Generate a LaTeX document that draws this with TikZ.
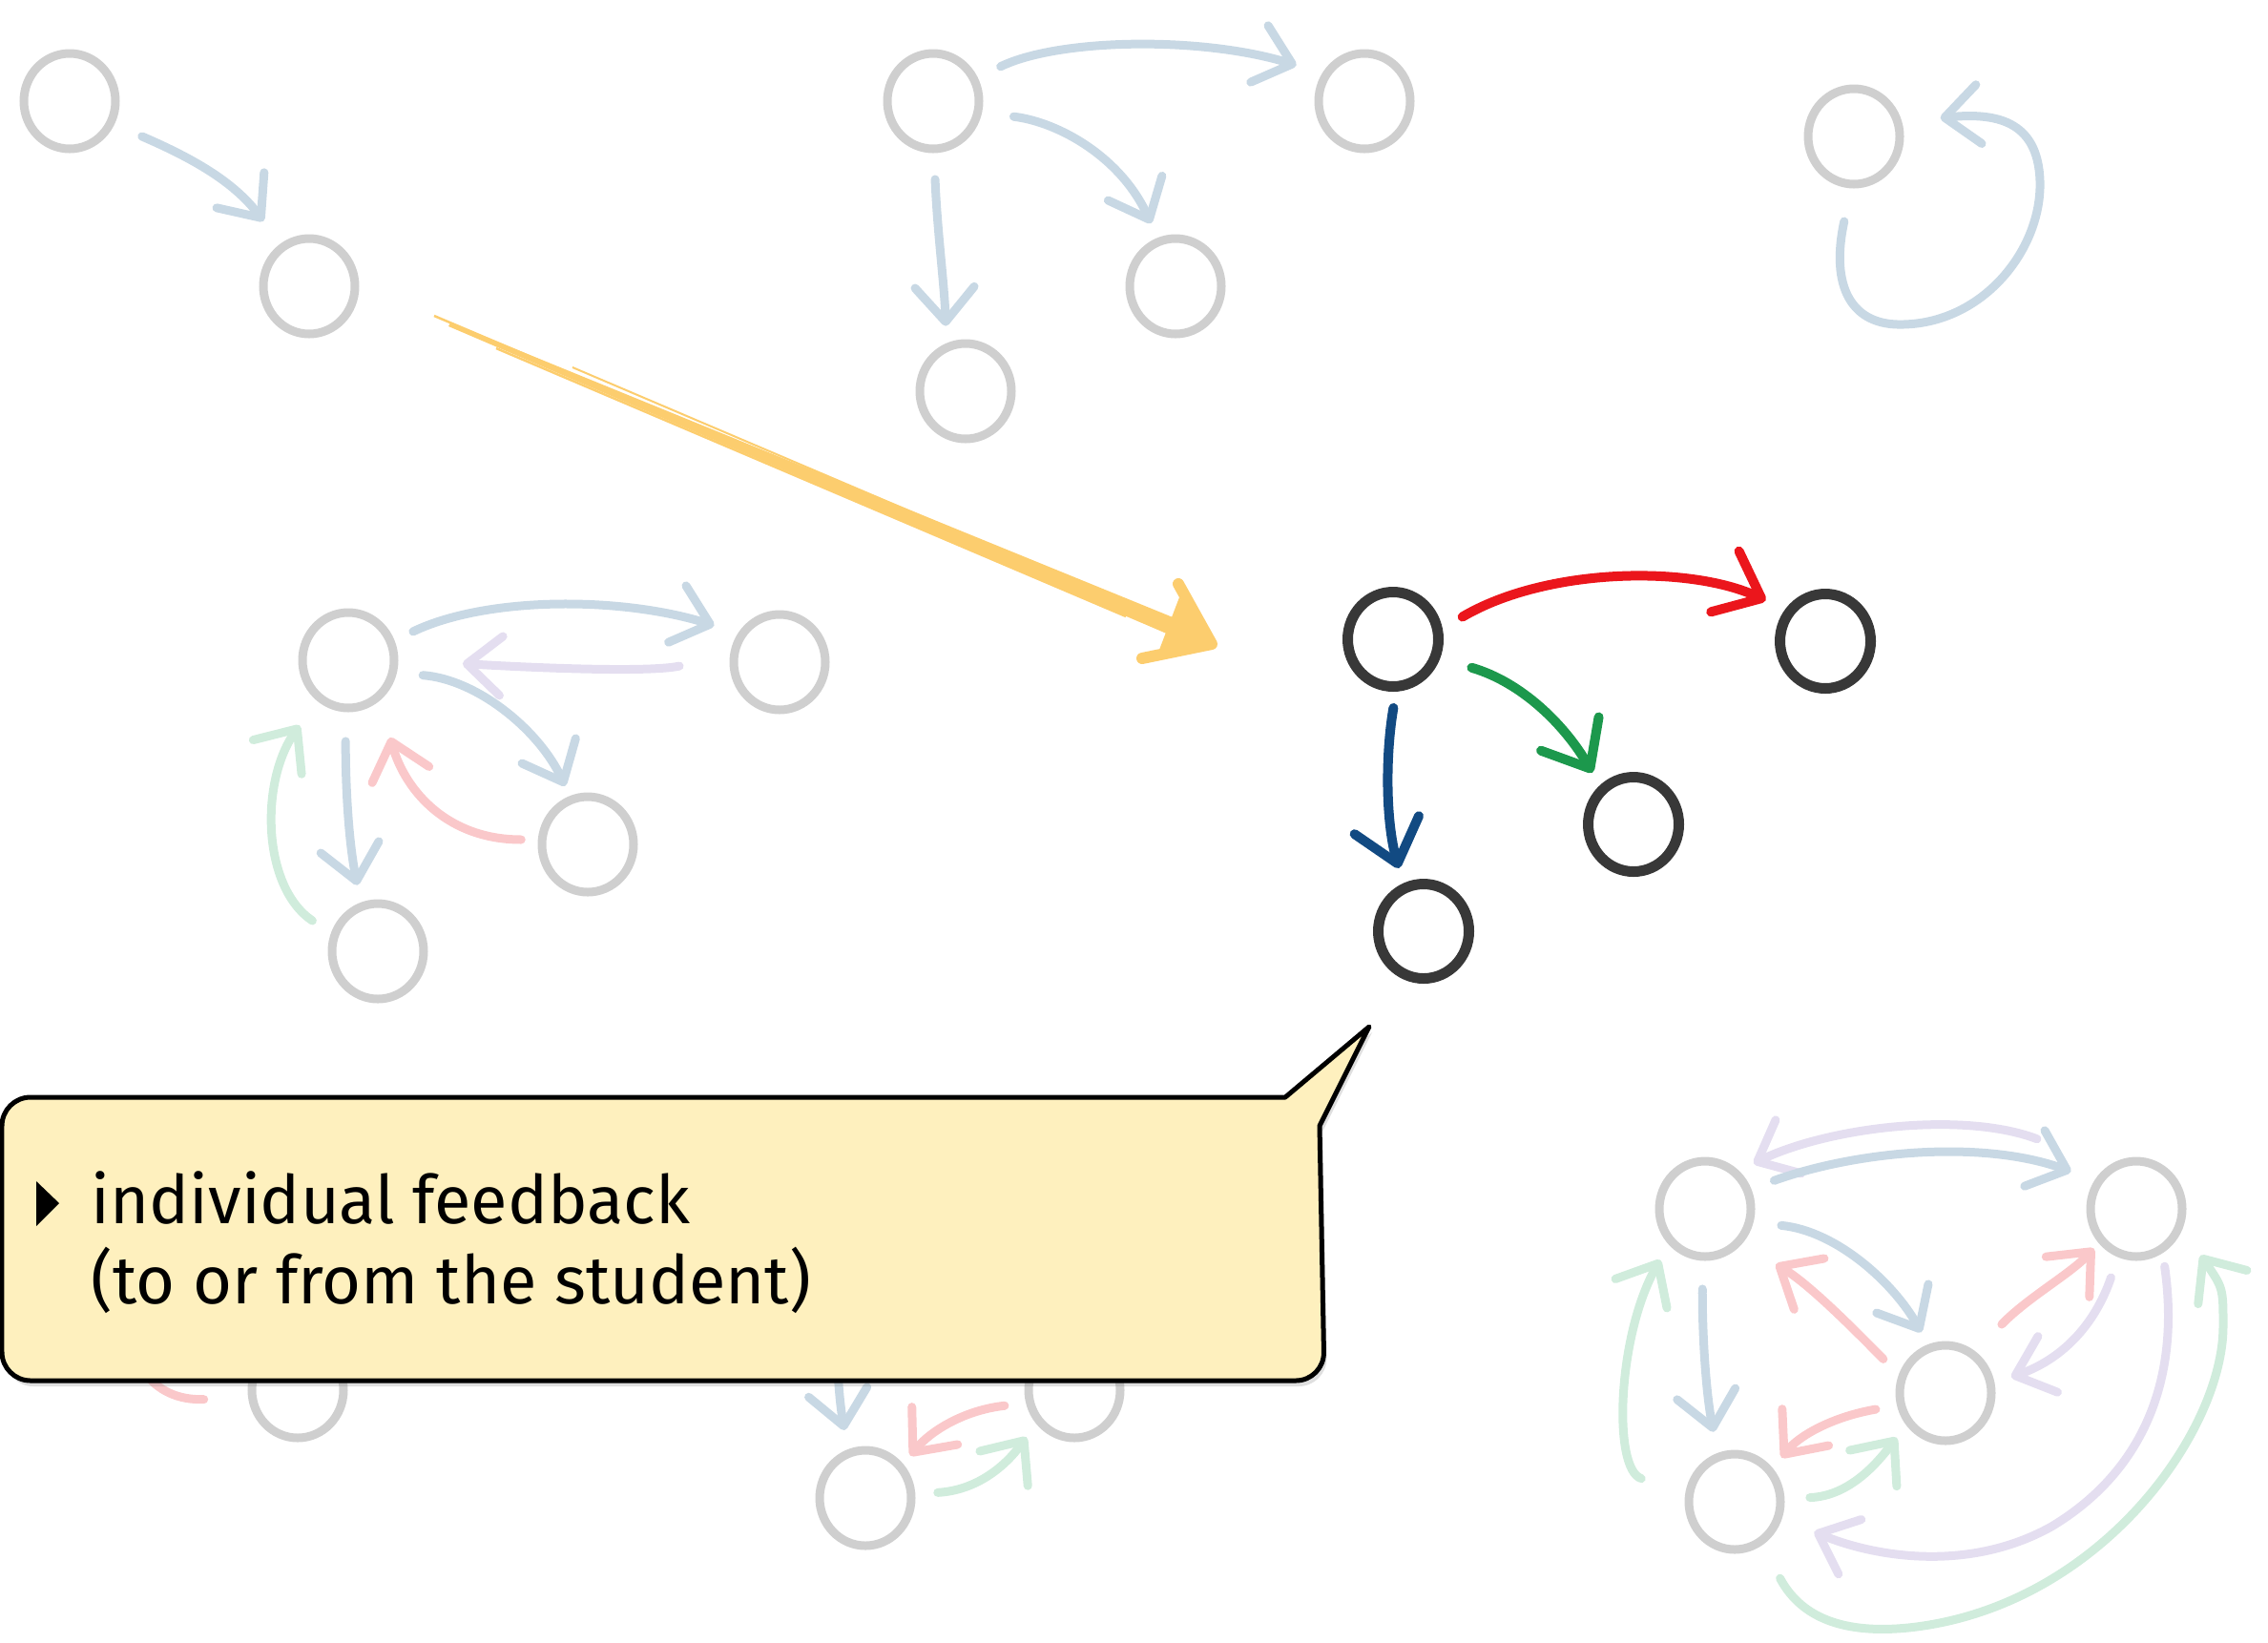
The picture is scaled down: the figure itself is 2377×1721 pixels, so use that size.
\documentclass[tikz,border=0pt]{standalone}
\usepackage{fontspec}
\setmainfont{Fira Sans}
\usetikzlibrary{arrows.meta,shapes.geometric,shadows}

\definecolor{inkred}{RGB}{235,22,28}
\definecolor{inkgreen}{RGB}{28,152,76}
\definecolor{inkblue}{RGB}{18,74,130}
\definecolor{paleblue}{RGB}{200,216,228}
\definecolor{palered}{RGB}{250,200,202}
\definecolor{palegreen}{RGB}{208,236,220}
\definecolor{palelilac}{RGB}{228,222,240}
\definecolor{marker}{RGB}{252,205,110}
\definecolor{notefill}{RGB}{254,240,190}

\tikzset{
  blob/.style={ellipse,draw=black!78,line width=1.1mm,minimum width=9.5mm,
    minimum height=9.9mm,inner sep=0pt,outer sep=0pt},
  ghost/.style={blob,draw=black!19,line width=.9mm,minimum width=9.6mm,minimum height=10mm},
  gaps/.style 2 args={shorten <=#1,shorten >=#2},
  link/.style={line width=1mm,line cap=round,
    -{Straight Barb[length=4.2mm,width=7mm,round]}},
  faint/.style={link,line width=.9mm,
    -{Straight Barb[length=3.6mm,width=6.2mm,round]}},
  note/.style={draw=black,line width=.5mm,fill=notefill,line join=round,
    drop shadow={shadow xshift=.3mm,shadow yshift=-.6mm,opacity=.25}},
  notetext/.style={anchor=base west,inner sep=0pt,font=\fontsize{20}{24}\selectfont}
}

\begin{document}
\begin{tikzpicture}[x=0.1mm,y=-0.1mm]
  \useasboundingbox (0,0) rectangle (2377,1721);

  \foreach \n/\x/\y in {n1/73/106,n2/324/300,a/978/106,b/1430/106,c/1232/300,
      d/1012/410,e/1943/143,p/365/692,q/817/694,r/616/885,s/396/997,
      u/1787/1267,v/2239/1267,w/2039/1460,x/1818/1574,
      g/312/1457,h/1126/1457,k/907/1570}
    \node[ghost] (\n) at (\x,\y) {};

  \draw[faint,paleblue,gaps={3.6mm}{3.4mm}] (n1.-28) .. controls (200,165) and (245,190) .. (n2.124);

  \draw[faint,paleblue,gaps={3.1mm}{3.3mm}] (a.28) .. controls (1110,40) and (1260,38) .. (b.145);
  \draw[faint,paleblue,gaps={3.8mm}{2.1mm}] (a.-14) .. controls (1110,128) and (1175,165) .. (c.110);
  \draw[faint,paleblue,gaps={3.2mm}{2.3mm}] (a.-89) .. controls (982,240) and (990,300) .. (d.114);

  \draw[faint,paleblue,gaps={4mm}{4.5mm}] (e.-92) .. controls (1918,300) and (1940,342) .. (1995,340)
    .. controls (2080,338) and (2140,260) .. (2138,190)
    .. controls (2136,125) and (2090,118) .. (e.18);

  \draw[faint,paleblue,gaps={2.6mm}{3.1mm}] (p.23) .. controls (510,625) and (650,625) .. (q.143);
  \draw[faint,palelilac,gaps={5.9mm}{7.2mm}] (q.170) .. controls (680,705) and (560,700) .. (p.1);
  \draw[faint,paleblue,gaps={3.2mm}{1.6mm}] (p.-16) .. controls (500,712) and (565,765) .. (r.110);
  \draw[faint,paleblue,gaps={3.5mm}{2.3mm}] (p.-93) .. controls (362,820) and (365,880) .. (s.110);
  \draw[faint,palered,gaps={2.2mm}{4.5mm}] (r.174) .. controls (470,880) and (425,830) .. (p.-50);
  \draw[faint,palegreen,gaps={2.8mm}{3.6mm}] (s.160) .. controls (275,930) and (272,820) .. (p.-128);

  \draw[faint,palelilac,gaps={8.5mm}{2.2mm}] (v.120) .. controls (2060,1165) and (1920,1180) .. (u.51);
  \draw[faint,paleblue,gaps={3mm}{3.1mm}] (u.24) .. controls (1950,1205) and (2080,1195) .. (v.144);
  \draw[faint,paleblue,gaps={3.4mm}{1.9mm}] (u.-17) .. controls (1925,1290) and (1985,1345) .. (w.109);
  \draw[faint,paleblue,gaps={3.4mm}{2.7mm}] (u.-93) .. controls (1784,1400) and (1788,1460) .. (x.110);
  \draw[faint,palered,gaps={2.8mm}{4.6mm}] (w.161) .. controls (1940,1390) and (1895,1345) .. (u.-45);
  \draw[faint,palered,gaps={4.4mm}{1.2mm}] (w.55) .. controls (2125,1360) and (2170,1335) .. (v.-138);
  \draw[faint,palelilac,gaps={2.7mm}{2.3mm}] (v.-111) .. controls (2195,1390) and (2160,1425) .. (w.11);
  \draw[faint,palered,gaps={2.7mm}{1.9mm}] (w.-165) .. controls (1920,1485) and (1885,1505) .. (x.40);
  \draw[faint,palegreen,gaps={3.1mm}{2.1mm}] (x.4) .. controls (1940,1568) and (1970,1530) .. (w.-142);
  \draw[faint,palegreen,gaps={5.3mm}{2.3mm}] (x.170) .. controls (1690,1540) and (1695,1400) .. (u.-137);
  \draw[faint,palelilac,gaps={1.9mm}{4.1mm}] (v.-57) .. controls (2285,1440) and (2250,1540) .. (2150,1600)
    .. controls (2060,1650) and (1960,1630) .. (x.-19);
  \draw[faint,palegreen,gaps={4.4mm}{3.9mm}] (x.-57) .. controls (1890,1700) and (1940,1712) .. (2000,1706)
    .. controls (2200,1685) and (2330,1500) .. (2330,1390) .. controls (2330,1350) .. (v.-20);

  \coordinate (gto) at (120,1330);
  \coordinate (kfrom) at (878,1380);
  \draw[faint,palered,gaps={5.1mm}{0mm}] (g.190) .. controls (160,1468) and (130,1430) .. (gto);
  \draw[faint,paleblue,gaps={0mm}{2.5mm}] (kfrom) .. controls (876,1430) and (880,1470) .. (k.111);
  \draw[faint,palered,gaps={2.7mm}{1.6mm}] (h.196) .. controls (1010,1478) and (975,1500) .. (k.41);
  \draw[faint,palegreen,gaps={2.8mm}{2.2mm}] (k.5) .. controls (1025,1562) and (1055,1535) .. (h.-140);

  \coordinate (from) at (472,338);
  \coordinate (to) at (1270,675);
  \fill[marker] (from) -- (470,342) -- (1232,668) -- (1239,651) -- cycle;
  \draw[marker,line width=.25mm] (455,331) -- (1000,562);
  \draw[marker,line width=.25mm] (520,365) -- (1180,646);
  \draw[marker,line width=.2mm] (600,385) -- (1100,598);
  \fill[marker] (to) -- (1236,626) -- (1215,681) -- cycle;
  \draw[marker,line width=1.2mm,line cap=round,line join=round] (1235,612) -- (to) -- (1197,690);

  \foreach \n/\x/\y in {A/1460/670,B/1913/672,C/1712/864,D/1492/976}
    \node[blob] (\n) at (\x,\y) {};
  \draw[link,inkred,gaps={3mm}{2.8mm}] (A.10) .. controls (1620,595) and (1770,592) .. (B.140);
  \draw[link,inkgreen,gaps={4mm}{2.1mm}] (A.-23) .. controls (1595,715) and (1640,760) .. (C.132);
  \draw[link,inkblue,gaps={2.3mm}{2.2mm}] (A.-85) .. controls (1452,790) and (1452,860) .. (D.114);

  \draw[note] (700,1150) -- (1347,1150) -- (1435,1076) -- (1383,1180) [rounded corners=3mm]
    -- (1388,1447) -- (2,1447) -- (2,1150) -- cycle;
  \fill (38,1238) -- (62,1261) -- (38,1285) -- cycle;
  \node[notetext] (fb) at (95,1282) {individual feedback};
  \node[notetext] (who) at (95,1366) {(to or from the student)};
\end{tikzpicture}
\end{document}
